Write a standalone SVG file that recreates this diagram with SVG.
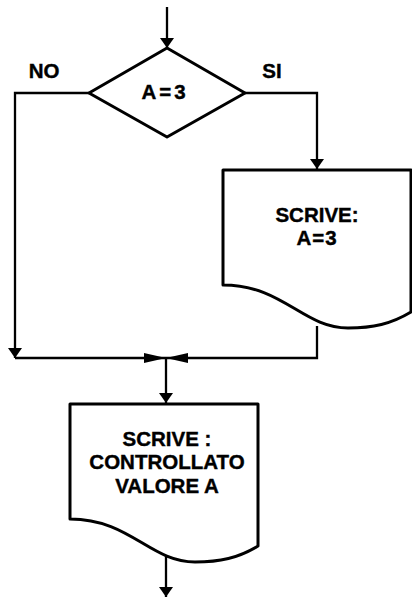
<svg xmlns="http://www.w3.org/2000/svg" width="412" height="597" viewBox="0 0 412 597">
<style>
.shape{fill:#fff;stroke:#000;stroke-width:3;stroke-linejoin:round}
.conn{fill:none;stroke:#000;stroke-width:2.3}
.t{font-family:"Liberation Sans",Arial,sans-serif;font-weight:bold;font-size:20.5px;fill:#000;text-anchor:middle;stroke:#000;stroke-width:0.4}
</style>
<defs>
<marker id="ah" viewBox="0 0 10 14" refX="10" refY="7" markerWidth="10" markerHeight="14" markerUnits="userSpaceOnUse" orient="auto">
<path d="M0,0 L10,7 L0,14 Z" fill="#000"/>
</marker>
<marker id="ahs" viewBox="0 0 22 10" refX="22" refY="5" markerWidth="22" markerHeight="10" markerUnits="userSpaceOnUse" orient="auto">
<path d="M0,0 L22,5 L0,10 Z" fill="#000"/>
</marker>
<path id="doc" d="M0,0 H188 V142 C168,154 150,158 125,158 C80,158 60,115 0,115 Z"/>
</defs>
<g id="connectors">
<line class="conn" x1="167" y1="7" x2="167" y2="48" marker-end="url(#ah)"/>
<polyline class="conn" points="89,93 15,93 15,358" marker-end="url(#ah)"/>
<polyline class="conn" points="245,93 317,93 317,169" marker-end="url(#ah)"/>
<line class="conn" x1="15" y1="358" x2="166" y2="358" marker-end="url(#ahs)"/>
<polyline class="conn" points="317,326 317,358 166,358" marker-end="url(#ahs)"/>
<line class="conn" x1="166" y1="358" x2="166" y2="403" marker-end="url(#ah)"/>
<line class="conn" x1="166" y1="552" x2="166" y2="597" marker-end="url(#ah)"/>
</g>
<g id="decision">
<polygon class="shape" points="167,48 245,93 167,137 89,93"/>
<text class="t" x="165" y="99" letter-spacing="3">A=3</text>
</g>
<text class="t" x="44" y="78">NO</text>
<text class="t" x="272" y="78">SI</text>
<g id="write1" transform="translate(223,170)">
<use href="#doc" class="shape"/>
<text class="t" x="94" y="52">SCRIVE:</text>
<text class="t" x="94" y="75" letter-spacing="1">A=3</text>
</g>
<g id="write2" transform="translate(70,404)">
<use href="#doc" class="shape"/>
<text class="t" x="97" y="42">SCRIVE :</text>
<text class="t" x="97" y="65">CONTROLLATO</text>
<text class="t" x="97" y="89">VALORE A</text>
</g>
</svg>
